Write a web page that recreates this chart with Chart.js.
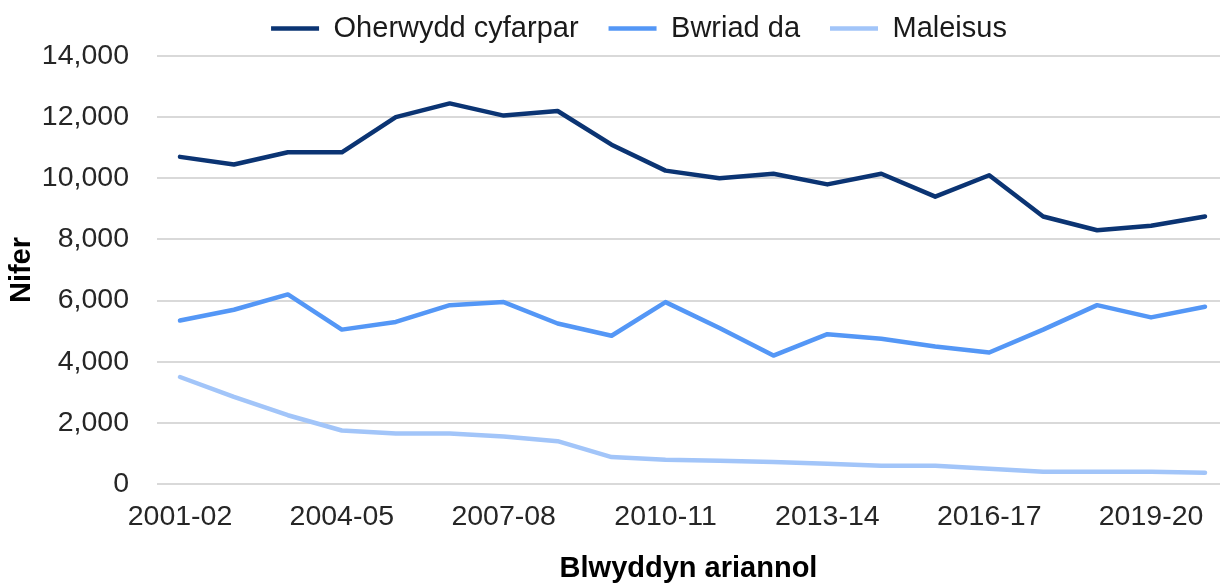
<!DOCTYPE html>
<html lang="cy">
<head>
  <meta charset="UTF-8" />
  <title>Nifer yn ôl blwyddyn ariannol</title>

  <!-- Chart.js für das Liniendiagramm -->
  <script src="https://cdn.jsdelivr.net/npm/chart.js"></script>

  <style>
    body {
      margin: 0;
      background: #fff;
    }

    /* feste Größe wie im Original */
    .chart-box {
      position: relative;
      width: 1220px;
      height: 584px;
    }
  </style>
</head>

<body>
  <div class="chart-box">
    <canvas id="niferChart" role="img" aria-label="Nifer yn ôl blwyddyn ariannol"></canvas>
  </div>

  <script>
    // Daten
    const blynyddoedd = [
      '2001-02', '2002-03', '2003-04', '2004-05', '2005-06', '2006-07', '2007-08',
      '2008-09', '2009-10', '2010-11', '2011-12', '2012-13', '2013-14', '2014-15',
      '2015-16', '2016-17', '2017-18', '2018-19', '2019-20', '2020-21'
    ];
    const oherwyddCyfarpar = [
      10700, 10450, 10850, 10850, 12000, 12450, 12050, 12200, 11100, 10250,
      10000, 10150, 9800, 10150, 9400, 10100, 8750, 8300, 8450, 8750
    ];
    const bwriadDa = [
      5350, 5700, 6200, 5050, 5300, 5850, 5950, 5250, 4850, 5950,
      5100, 4200, 4900, 4750, 4500, 4300, 5050, 5850, 5450, 5800
    ];
    const maleisus = [
      3500, 2850, 2250, 1750, 1650, 1650, 1550, 1400, 880, 790,
      760, 720, 660, 600, 600, 500, 400, 400, 400, 370
    ];
    // beschriftete Jahre und y-Ticks
    const labelYears = ['2001-02', '2004-05', '2007-08', '2010-11', '2013-14', '2016-17', '2019-20'];
    const yTicks = [0, 2000, 4000, 6000, 8000, 10000, 12000, 14000];

    const toPoints = (arr) => arr.map((v, i) => ({ x: i, y: v }));

    Chart.defaults.font.family = "'Liberation Sans', Arial, sans-serif";
    Chart.defaults.color = '#262626';

    // Legende: etwas mehr Abstand nach unten + nach rechts schieben
    const legendTweak = {
      id: 'legendTweak',
      beforeInit(chart) {
        const legend = chart.legend;
        if (!legend) return;
        const fit = legend.fit;
        legend.fit = function () {
          fit.call(this);
          this.height += 3;
        };
      },
      afterLayout(chart) {
        if (!chart.legend) return;
        chart.legend.left += 29;
        chart.legend.right += 29;
      }
    };

    const lineStyle = {
      borderWidth: 4.5,
      pointRadius: 0,
      pointHoverRadius: 0,
      tension: 0,
      borderCapStyle: 'round',
      borderJoinStyle: 'round',
      fill: false
    };

    new Chart(document.getElementById('niferChart'), {
      type: 'line',
      data: {
        datasets: [
          { label: 'Oherwydd cyfarpar', data: toPoints(oherwyddCyfarpar), borderColor: '#0b3473', backgroundColor: '#0b3473', ...lineStyle },
          { label: 'Bwriad da', data: toPoints(bwriadDa), borderColor: '#5497f6', backgroundColor: '#5497f6', ...lineStyle },
          { label: 'Maleisus', data: toPoints(maleisus), borderColor: '#a2c5f9', backgroundColor: '#a2c5f9', ...lineStyle }
        ]
      },
      options: {
        responsive: true,
        maintainAspectRatio: false,
        animation: false,
        layout: { padding: { top: -16, left: 0, right: 0, bottom: 0 } },
        plugins: {
          legend: {
            position: 'top',
            labels: {
              usePointStyle: true,
              pointStyle: 'line',
              pointStyleWidth: 48,
              padding: 30,
              color: '#1a1a1a',
              font: { size: 29 }
            }
          },
          tooltip: { enabled: false }
        },
        scales: {
          x: {
            type: 'linear',
            min: -0.426,
            max: 19.278,
            afterBuildTicks: (scale) => {
              scale.ticks = labelYears.map(y => ({ value: blynyddoedd.indexOf(y) }));
            },
            afterFit: (scale) => { scale.height = 100; },
            ticks: {
              callback: (v) => blynyddoedd[v],
              autoSkip: false,
              maxRotation: 0,
              padding: 16,
              color: '#262626',
              font: { size: 28.5 }
            },
            grid: { display: false, drawTicks: false },
            border: { display: false },
            title: {
              display: true,
              text: 'Blwyddyn ariannol',
              color: '#000',
              font: { size: 29, weight: 'bold' },
              padding: { top: 0, bottom: -2 }
            }
          },
          y: {
            min: 0,
            max: 14000,
            afterBuildTicks: (scale) => {
              scale.ticks = yTicks.map(v => ({ value: v }));
            },
            afterFit: (scale) => { scale.width = 157; },
            ticks: {
              callback: (v) => v.toLocaleString('en-US'),
              padding: 28,
              color: '#262626',
              font: { size: 28.5 }
            },
            grid: { color: '#d9d9d9', lineWidth: 2, drawTicks: false },
            border: { display: false },
            title: {
              display: true,
              text: 'Nifer',
              color: '#000',
              font: { size: 29, weight: 'bold' },
              padding: { top: 5, bottom: 0 }
            }
          }
        }
      },
      plugins: [legendTweak]
    });
  </script>
</body>
</html>
